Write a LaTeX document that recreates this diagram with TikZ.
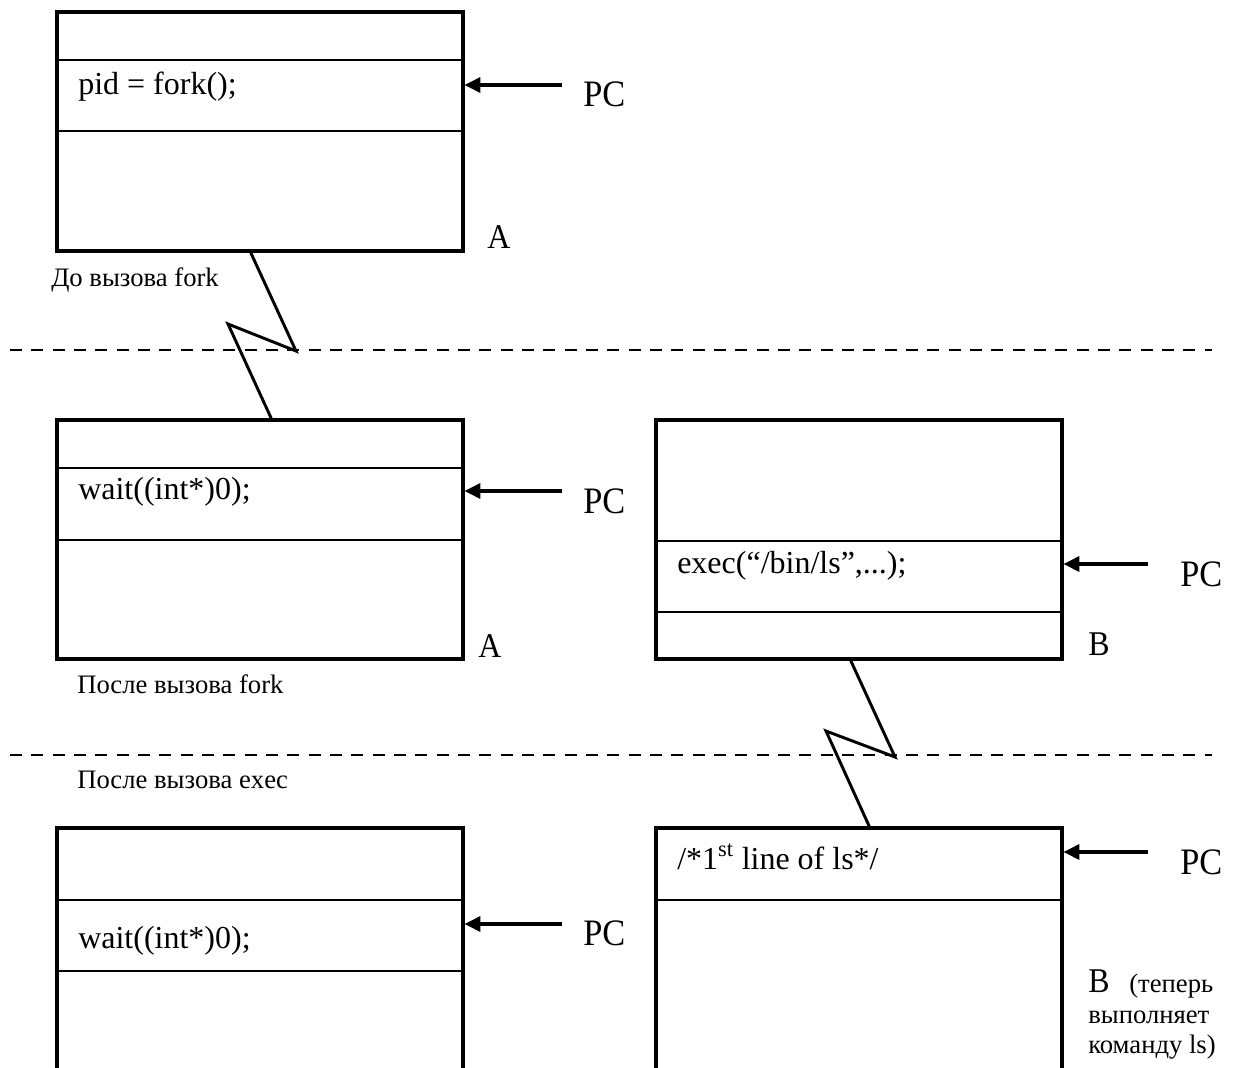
\documentclass[tikz,border=0pt]{standalone}
\usepackage{fontspec}
\setmainfont{Liberation Serif}
\newfontfamily\pcfont[FakeStretch=0.92]{Liberation Serif}
\usetikzlibrary{arrows.meta,calc}
\begin{document}
\begin{tikzpicture}[x=0.75pt,y=-0.75pt,
  procbox/.style={draw,line width=3pt,inner sep=0pt,outer sep=0pt,minimum width=304.5pt,anchor=north west},
  divider/.style={line width=1.2pt},
  pcarrow/.style={line width=3pt,-{Triangle[length=12pt,width=11pt]},shorten >=1pt},
  zig/.style={line width=2.2pt,line join=miter},
  sepline/.style={line width=2pt,dash pattern=on 9pt off 7pt},
  code/.style={font=\fontsize{24}{28}\selectfont,anchor=base west,inner sep=0pt},
  pclabel/.style={font=\pcfont\fontsize{28}{32}\selectfont,anchor=base west,inner sep=0pt},
  proclabel/.style={font=\pcfont\fontsize{26}{30}\selectfont,anchor=base west,inner sep=0pt},
  caption/.style={font=\fontsize{20}{24}\selectfont,anchor=base west,inner sep=0pt},
]
\path[use as bounding box,clip] (0,0) rectangle (1233,1068);

% boxes
\node[procbox,minimum height=179.25pt] (b1) at (57,12) {};
\node[procbox,minimum height=179.25pt] (b2) at (57,420) {};
\node[procbox,minimum height=179.25pt] (b3) at (656,420) {};
\node[procbox,minimum height=195pt] (b4) at (57,828) {};
\node[procbox,minimum height=195pt] (b5) at (656,828) {};

% dividers
\draw[divider] ($(b1.north west)+(0,48)$) -- ($(b1.north east)+(0,48)$);
\draw[divider] ($(b1.north west)+(0,119)$) -- ($(b1.north east)+(0,119)$);
\draw[divider] ($(b2.north west)+(0,48)$) -- ($(b2.north east)+(0,48)$);
\draw[divider] ($(b2.north west)+(0,120)$) -- ($(b2.north east)+(0,120)$);
\draw[divider] ($(b3.north west)+(0,121)$) -- ($(b3.north east)+(0,121)$);
\draw[divider] ($(b3.north west)+(0,192)$) -- ($(b3.north east)+(0,192)$);
\draw[divider] ($(b4.north west)+(0,72)$) -- ($(b4.north east)+(0,72)$);
\draw[divider] ($(b4.north west)+(0,143)$) -- ($(b4.north east)+(0,143)$);
\draw[divider] ($(b5.north west)+(0,72)$) -- ($(b5.north east)+(0,72)$);

% code texts
\node[code] (c1) at (78,94) {pid = fork();};
\node[code] (c2) at (78,499) {wait((int*)0);};
\node[code] (c3) at (677,573) {exec(“/bin/ls”,...);};
\node[code] (c4) at (78,948) {wait((int*)0);};
\node[code] (c5) at (677,869) {/*1\textsuperscript{st} line of ls*/};

% PC labels and arrows
\node[pclabel] (pc1) at (583,106) {PC};
\node[pclabel] (pc2) at (583,513) {PC};
\node[pclabel] (pc3) at (1180,586) {PC};
\node[pclabel] (pc4) at (583,945) {PC};
\node[pclabel] (pc5) at (1180,874) {PC};
\coordinate (t1) at (562,85);
\coordinate (t2) at (562,491);
\coordinate (t3) at (1148,564);
\coordinate (t4) at (562,924);
\coordinate (t5) at (1148,852);
\draw[pcarrow] (t1) -- (t1 -| b1.east);
\draw[pcarrow] (t2) -- (t2 -| b2.east);
\draw[pcarrow] (t3) -- (t3 -| b3.east);
\draw[pcarrow] (t4) -- (t4 -| b4.east);
\draw[pcarrow] (t5) -- (t5 -| b5.east);

% process labels
\node[proclabel] (la1) at (487,248) {A};
\node[proclabel] (la2) at (478,657) {A};
\node[proclabel] (lb3) at (1088,655) {B};
\node[proclabel] (lb5) at (1088,992) {B};
\node[caption] (lb5a) at (1129,992) {(теперь};
\node[caption] (lb5b) at (1088,1023) {выполняет};
\node[caption] (lb5c) at (1088,1053) {команду ls)};

% captions
\node[caption] (cap1) at (51,286) {До вызова fork};
\node[caption] (cap2) at (77,693) {После вызова fork};
\node[caption] (cap3) at (77,788) {После вызова exec};

% separators
\coordinate (s1a) at (10,350);
\coordinate (s1b) at (1212,350);
\coordinate (s2a) at (10,755);
\coordinate (s2b) at (1212,755);
\draw[sepline] (s1a) -- (s1b);
\draw[sepline] (s2a) -- (s2b);

% zigzag links
\coordinate (z1s) at ($(b1.south west)+(193,0)$);
\coordinate (z1e) at ($(b2.north west)+(215,0)$);
\draw[zig] (z1s) -- (296,351) -- (228,324) -- (z1e);
\coordinate (z2s) at ($(b3.south west)+(194,0)$);
\coordinate (z2e) at ($(b5.north west)+(214,0)$);
\draw[zig] (z2s) -- (895,757) -- (826,731) -- (z2e);
\end{tikzpicture}
\end{document}
